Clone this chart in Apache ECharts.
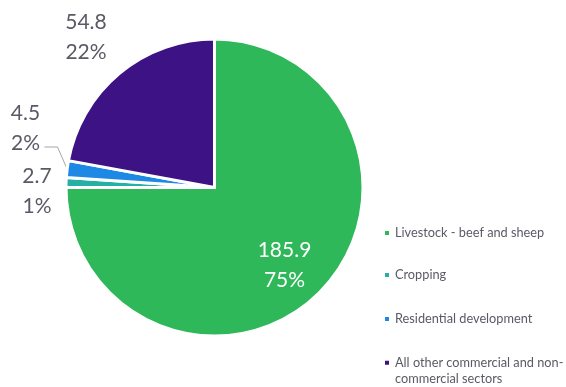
<!DOCTYPE html>
<html>
<head>
<meta charset="utf-8">
<style>
  html, body { margin: 0; padding: 0; background: #ffffff; }
  #chart { width: 566px; height: 387px; }
</style>
<script src="https://cdn.jsdelivr.net/npm/echarts@6/dist/echarts.min.js"></script>
</head>
<body>
<div id="chart"></div>
<script>
// Land use by sector
const categories = [
  'Livestock - beef and sheep',
  'Cropping',
  'Residential development',
  'All other commercial and non-commercial sectors'
];
const values = [185.9, 2.7, 4.5, 54.8];
const colors = ['#2EB85A', '#25AFA5', '#1E88E5', '#3D1285'];

const TEXT_GREY = '#5A5A66';
const FONT = 'Lato, "Open Sans", sans-serif';

// Where each slice's value/percent label sits (pixel centre of the text block)
const labelSpots = [
  { x: 284.5, y: 265 },
  { x: 37, y: 191 },
  { x: 25.5, y: 128 },
  { x: 86, y: 37 }
];

const chart = echarts.init(document.getElementById('chart'), null, { renderer: 'canvas' });

const pieData = categories.map((name, i) => ({
  name: name,
  value: values[i],
  itemStyle: { color: colors[i] },
  label: { color: i === 0 ? '#ffffff' : TEXT_GREY },
  labelLine: { show: i === 2 }
}));

// Symmetric text padding sets the spacing between legend rows
const legendPadding = [8.7, 16.8, 10.7, 0];
const legendData = categories.map((name, i) => ({
  name: name,
  textStyle: { padding: [legendPadding[i], 0, legendPadding[i], 0] }
}));

chart.setOption({
  animation: false,
  backgroundColor: '#ffffff',
  legend: {
    orient: 'vertical',
    left: 383,
    top: 216,
    height: 200,
    padding: 0,
    itemGap: 0,
    itemWidth: 6,
    itemHeight: 6,
    icon: 'rect',
    selectedMode: false,
    data: legendData,
    formatter: function (name) {
      // Two-line entry: a blank first line keeps the icon level with the text's first line
      if (name.indexOf('and non-') >= 0) {
        return '\n' + name.replace('and non-', 'and non-\n');
      }
      return name;
    },
    textStyle: {
      color: TEXT_GREY,
      fontFamily: FONT,
      fontSize: 12.75,
      lineHeight: 16.5
    }
  },
  series: [{
    type: 'pie',
    center: [214.5, 187.5],
    radius: 148.5,
    startAngle: 90,
    clockwise: true,
    percentPrecision: 0,
    avoidLabelOverlap: false,
    itemStyle: { borderColor: '#ffffff', borderWidth: 3 },
    label: {
      show: true,
      position: 'outside',
      formatter: '{c}\n{d}%',
      fontFamily: FONT,
      fontSize: 21,
      lineHeight: 30
    },
    labelLine: {
      lineStyle: { color: '#A6A6A6', width: 1 }
    },
    emphasis: { disabled: true },
    labelLayout: function (params) {
      const spot = labelSpots[params.dataIndex];
      const out = { x: spot.x, y: spot.y, align: 'center', verticalAlign: 'middle' };
      if (params.dataIndex === 2 && params.labelLinePoints) {
        const start = params.labelLinePoints[0];
        out.labelLinePoints = [
          start,
          [spot.x + 32, spot.y + 19],
          [spot.x + 19, spot.y + 19]
        ];
      }
      return out;
    },
    data: pieData
  }]
});
</script>
</body>
</html>
